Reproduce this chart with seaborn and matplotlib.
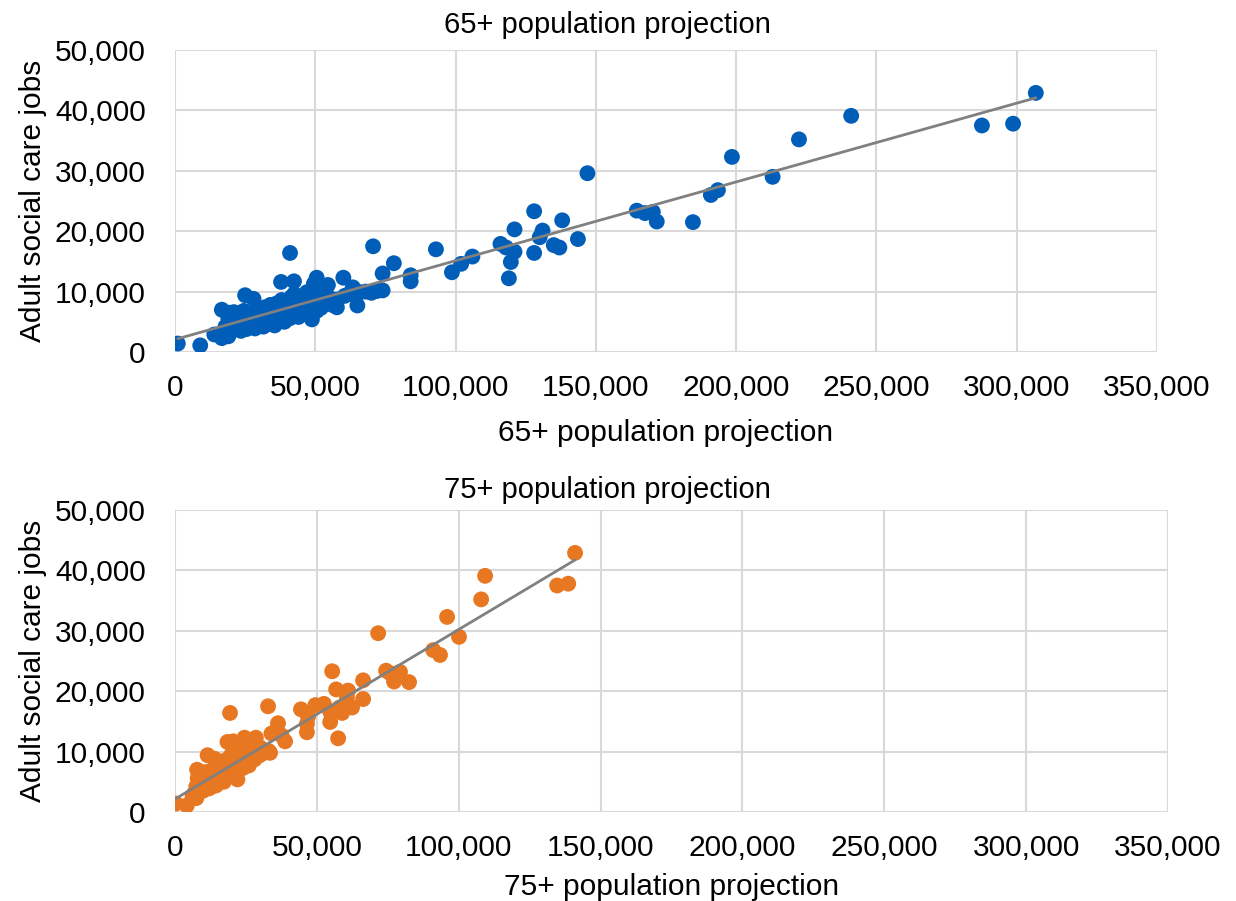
import matplotlib
matplotlib.use("Agg")
import matplotlib.pyplot as plt
import seaborn as sns
import numpy as np
import pandas as pd
from matplotlib.ticker import FuncFormatter

# ---- data ----
pop65 = [1000, 9000, 14000, 16700, 16700, 25000, 41000, 70600, 78000, 84000, 84000, 74000, 74000,
         60000, 50500, 49500, 54500, 37800, 42400, 63400, 65000, 57700, 48800,
         147000, 128000, 138000, 121000, 131000, 130000, 116000, 118000, 121000, 135000, 137000,
         143600, 128000, 119700, 119000, 93000, 102000, 98700, 106000,
         164600, 167500, 170300, 171700, 184600, 306800, 287600, 298700, 241000, 222400,
         198500, 213000, 193500, 191000,
         18000, 19000, 19500, 20000, 20500, 21000, 21500, 22000, 22500, 23000, 23500, 24000,
         24500, 25000, 25500, 26000, 26500, 27000, 27500, 28000, 28500, 29000, 29500, 30000,
         30500, 31000, 31500, 32000, 32500, 33000, 33500, 34000, 34500, 35000, 35500, 36000,
         36500, 37000, 37500, 38000, 38500, 39000, 39500, 40000, 40500, 41000, 41500, 42000,
         42500, 43000, 43500, 44000, 44500, 45000, 46000, 46500, 47000, 47500, 48000, 49000,
         50000, 50500, 51000, 52000, 53000, 54000, 55000, 56000, 58000, 60500, 62000, 66000,
         68000, 70000, 72000, 40000, 35000, 30000, 27000, 24000, 22000, 33000, 38000, 45000,
         28000, 26000, 31000, 36000, 16000, 17500, 19000]

pop75 = [300, 4200, 6500, 7500, 7800, 11500, 19400, 32800, 36300, 37500, 38800, 34000, 31500,
         28500, 24500, 26000, 27500, 18500, 20500, 30000, 26000, 24000, 22000,
         71600, 55400, 66300, 56800, 61000, 60600, 52500, 62400, 54700, 49500, 58000,
         66300, 58900, 54700, 57500, 44400, 46500, 46500, 46900,
         74400, 75800, 79300, 77200, 82500, 141000, 134700, 138600, 109300, 107900,
         95900, 100100, 91000, 93400,
         7500, 8000, 9200, 8200, 9500, 10800, 9000, 10000, 11500, 10200, 9800, 11000,
         12500, 11200, 10500, 12000, 13000, 11800, 12600, 14000, 12000, 13200, 14500, 12800,
         13600, 14800, 13000, 15000, 14000, 15500, 13800, 16000, 15000, 16500, 14500, 17000,
         15800, 17500, 16200, 18000, 16800, 17200, 18500, 17500, 19000, 16800, 19500, 18500,
         20000, 19000, 20500, 18000, 21000, 20000, 22000, 21000, 23000, 21500, 22500, 23500,
         24500, 22000, 25000, 24000, 26000, 25500, 27000, 26000, 28000, 29500, 30500, 31000,
         32000, 33500, 33000, 18200, 15200, 13800, 12400, 10800, 9600, 14200, 17000, 21800,
         12200, 11500, 13500, 16000, 6800, 7600, 6200]

jobs = [1400, 1100, 2900, 2300, 7000, 9400, 16400, 17500, 14700, 12700, 11700, 13000, 10200,
        12300, 12300, 11300, 11100, 11600, 11700, 10700, 7700, 7400, 5400,
        29600, 23300, 21800, 20300, 20100, 19000, 17900, 17300, 16600, 17700, 17300,
        18700, 16400, 14900, 12200, 17000, 14600, 13200, 15800,
        23400, 23000, 23200, 21600, 21500, 42900, 37500, 37800, 39100, 35200,
        32300, 29000, 26800, 26000,
        4200, 5600, 6500, 3600, 5000, 6600, 4600, 5400, 6200, 4000, 3500, 5000,
        6800, 4400, 3800, 5800, 6400, 4800, 5300, 8800, 3900, 6100, 7000, 4500,
        5600, 6700, 4200, 7400, 5100, 6300, 4700, 7800, 5500, 6900, 4400, 8000,
        5900, 7200, 5200, 8600, 6500, 5000, 7600, 6200, 8300, 5600, 9100, 7000,
        9600, 6600, 8100, 5800, 7400, 6900, 8500, 7200, 9900, 6700, 8200, 7600,
        9300, 6800, 8800, 7300, 9700, 8300, 9000, 7800, 8700, 9300, 9600, 9900,
        10000, 9800, 10100, 7900, 6100, 6600, 6000, 5400, 4800, 5300, 6900, 8800,
        5200, 4600, 5700, 6800, 3000, 3300, 2600]

xticks = [0, 50000, 100000, 150000, 200000, 250000, 300000, 350000]
yticks = [0, 10000, 20000, 30000, 40000, 50000]

titles = ["65+ population projection", "75+ population projection"]
ylabel = "Adult social care jobs"
colors = ["#005EB8", "#E87722"]

df = pd.DataFrame({"pop65": pop65, "pop75": pop75, "jobs": jobs})

# ---- figure ----
sns.set_style("white")
plt.rcParams["font.family"] = ["Liberation Sans", "DejaVu Sans"]
plt.rcParams["text.color"] = "black"
plt.rcParams["axes.labelcolor"] = "black"

fig = plt.figure(figsize=(12.36, 9.01), dpi=100)
W, H = 1236, 901
boxes = [(175, 50, 1157, 352), (175, 510, 1168, 812)]
title_y = [25, 490]
xlabel_pad = [12, 8]
fmt = FuncFormatter(lambda v, p: f"{int(v):,}")

for i, (col, box) in enumerate(zip(["pop65", "pop75"], boxes)):
    l, t, r, b = box
    ax = fig.add_axes([l / W, 1 - b / H, (r - l) / W, (b - t) / H])
    sns.scatterplot(data=df, x=col, y="jobs", ax=ax, color=colors[i], s=130,
                    edgecolor="none", linewidth=0, zorder=3, legend=False)
    sns.regplot(data=df, x=col, y="jobs", ax=ax, scatter=False, ci=None, truncate=True,
                line_kws={"color": "#808080", "linewidth": 2.0, "zorder": 4})
    ax.set_xlim(0, 350000)
    ax.set_ylim(0, 50000)
    ax.set_xticks(xticks)
    ax.set_yticks(yticks)
    ax.xaxis.set_major_formatter(fmt)
    ax.yaxis.set_major_formatter(fmt)
    ax.grid(True, color="#D9D9D9", linewidth=1.5, zorder=0)
    ax.set_axisbelow(True)
    for s in ax.spines.values():
        s.set_visible(False)
    ax.tick_params(axis="both", length=0, labelsize=21.5, colors="black")
    ax.tick_params(axis="x", pad=16)
    ax.tick_params(axis="y", pad=21)
    ax.set_xlabel(titles[i], fontsize=21.5, labelpad=xlabel_pad[i])
    ax.set_ylabel(ylabel, fontsize=21.5, labelpad=6)
    fig.text(607 / W, 1 - title_y[i] / H, titles[i], fontsize=21,
             ha="center", va="center", color="black")

fig.savefig("out.png", dpi=100)
